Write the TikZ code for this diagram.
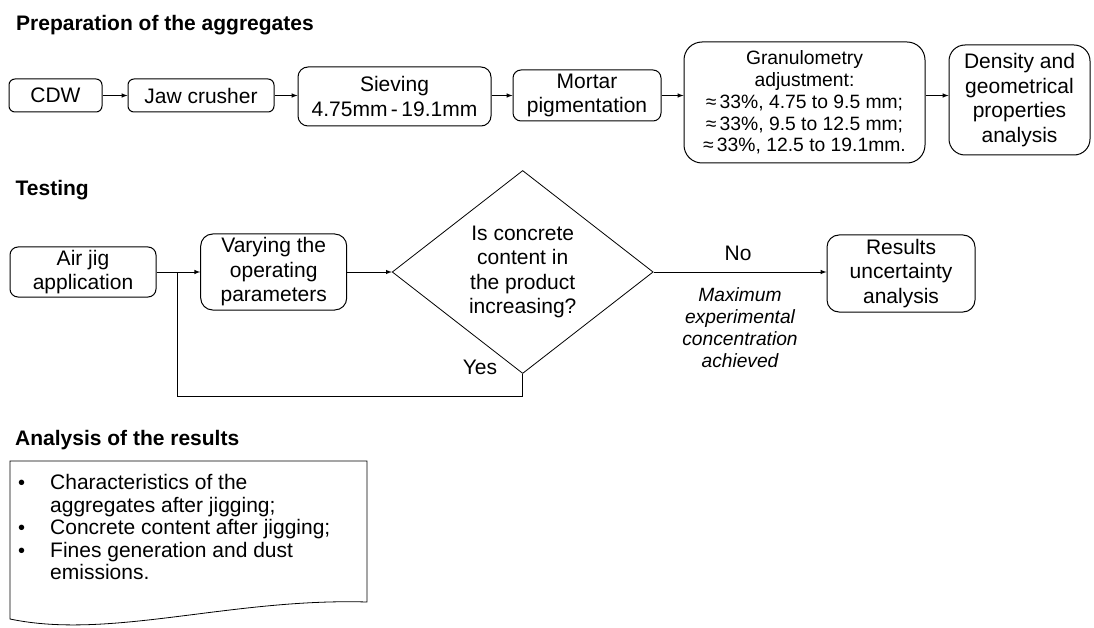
\documentclass[tikz,border=0pt]{standalone}
\usepackage{fontspec}
\setmainfont{Liberation Sans}
\usetikzlibrary{arrows,shapes.geometric}

\begin{document}
\begin{tikzpicture}[x=1pt,y=-1pt,
  every node/.style={font=\fontsize{21}{24.5}\selectfont},
  stage/.style={draw,rounded corners=#1,align=center,inner sep=0pt,line width=1pt},
  stage/.default=8pt,
  head/.style={anchor=base west,inner sep=0pt,font=\fontsize{21}{24}\selectfont\bfseries},
  flow/.style={->,>=latex,line width=1pt}]

\useasboundingbox (0,0) rectangle (1094,628);

% preparation of the aggregates
\node[head] (prep) at (16,30.7) {Preparation of the aggregates};

\node[stage=6pt,minimum width=93pt,minimum height=33pt] (cdw) at (55.5,95.5) {CDW};
\node[stage=6pt,minimum width=146pt,minimum height=33pt] (jaw) at (201,95.5) {Jaw crusher};
\node[stage=10pt,minimum width=193pt,minimum height=59pt] (sieve) at (394.5,96.5) {Sieving\\4.75mm\,-\,19.1mm};
\node[stage=8pt,minimum width=148pt,minimum height=51pt] (mortar) at (587,95.5) {Mortar\\pigmentation};
\node[stage=18pt,minimum width=241pt,minimum height=121pt,font=\fontsize{19.3}{21.8}\selectfont] (gran) at (804.5,102.5) {Granulometry\\adjustment:\\≈\,33\%, 4.75 to 9.5 mm;\\≈\,33\%, 9.5 to 12.5 mm;\\≈\,33\%, 12.5 to 19.1mm.};
\node[stage=16pt,minimum width=141pt,minimum height=110pt] (dens) at (1019.5,100) {Density and\\geometrical\\properties\\analysis};

\draw[flow] (cdw) -- (jaw);
\draw[flow] (jaw) -- (sieve.west |- jaw.east);
\draw[flow] (sieve.east |- mortar.west) -- (mortar);
\draw[flow] (mortar.east) -- (gran.west |- mortar.east);
\draw[flow] (gran.east |- mortar.east) -- (dens.west |- mortar.east);

% testing
\node[head] (test) at (15.5,195.7) {Testing};

\node[stage=8pt,minimum width=146pt,minimum height=50pt] (air) at (83,272) {Air jig\\application};
\node[stage=12pt,minimum width=146pt,minimum height=76pt] (vary) at (273.7,272) {Varying the\\operating\\parameters};
\node[draw,diamond,aspect=1.3,inner sep=0pt,line width=0.8pt,minimum width=261pt,minimum height=203pt,align=center] (dec) at (522.7,272) {Is concrete\\content in\\the product\\increasing?};
\node[stage=12pt,minimum width=148pt,minimum height=77pt] (res) at (901,273.5) {Results\\uncertainty\\analysis};

\coordinate (loop) at (177,396);

\draw[flow] (air) -- (vary);
\draw[flow] (vary) -- (dec);
\draw[flow] (dec.east) -- (res.west |- dec.east);
\draw[line width=1pt] (dec.south) |- (loop) -- (loop |- air.east);

\node (no) at (738,253) {No};
\node (yes) at (480,367) {Yes};
\node[align=center,font=\fontsize{19.2}{22}\selectfont\itshape] (maxc) at (740,328) {Maximum\\experimental\\concentration\\achieved};

% analysis of the results
\node[head] (anal) at (15,445) {Analysis of the results};

\draw[line width=0.8pt] (10,461) -- (367,461) -- (367,602)
  .. controls (230,598) and (110,640) .. (10,619) -- cycle;
\node[anchor=west,align=left,inner sep=0pt,font=\fontsize{21}{22.5}\selectfont] (items) at (18,527)
  {\makebox[32pt][l]{\fontsize{20}{20}\selectfont •}Characteristics of the\\
   \hspace*{32pt}aggregates after jigging;\\
   \makebox[32pt][l]{\fontsize{20}{20}\selectfont •}Concrete content after jigging;\\
   \makebox[32pt][l]{\fontsize{20}{20}\selectfont •}Fines generation and dust\\
   \hspace*{32pt}emissions.};

\end{tikzpicture}
\end{document}
